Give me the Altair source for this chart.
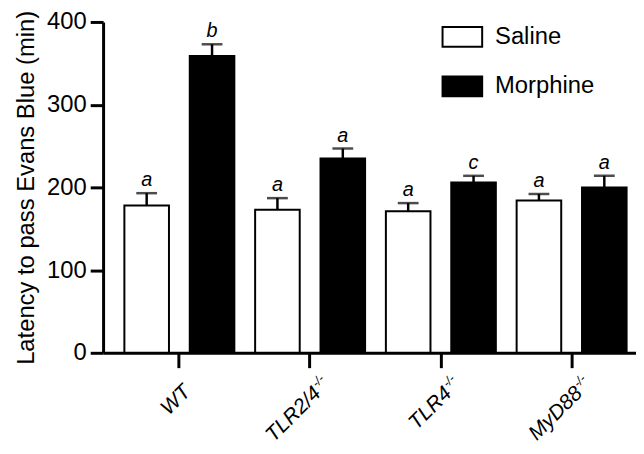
import altair as alt
import pandas as pd

# ---- data ----
groups = ["WT", "TLR2/4", "TLR4", "MyD88"]
sups = ["", "-/-", "-/-", "-/-"]
treatments = ["Saline", "Morphine"]
saline_mean = [178, 173, 171, 184]
saline_sem = [15, 14, 10, 8]
morphine_mean = [359, 235, 206, 200]
morphine_sem = [14, 12, 8, 14]
saline_letters = ["a", "a", "a", "a"]
morphine_letters = ["b", "a", "c", "a"]
y_ticks = [0, 100, 200, 300, 400]
y_title = "Latency to pass Evans Blue (min)"

bars_df = pd.DataFrame({
    "group": groups * 2,
    "treatment": ["Saline"] * 4 + ["Morphine"] * 4,
    "mean": saline_mean + morphine_mean,
    "sem": saline_sem + morphine_sem,
    "letter": saline_letters + morphine_letters,
})
bars_df["top"] = bars_df["mean"] + bars_df["sem"]
labels_df = pd.DataFrame({"group": groups, "sup": sups})

FONT = "Liberation Sans, Arial, Helvetica, sans-serif"

x_scale = alt.Scale(domain=groups, range=[0, 550], paddingInner=0, paddingOuter=0.0833)
x_axis = alt.Axis(labels=False, title=None, tickSize=15, tickWidth=3, tickColor="black",
                  domainWidth=3, domainColor="black", grid=False)
y_scale = alt.Scale(domain=[0, 400], nice=False)
y_axis = alt.Axis(values=y_ticks, grid=False)


def X():
    return alt.X("group:N", sort=groups, scale=x_scale, axis=x_axis)


def XO():
    return alt.XOffset("treatment:N", sort=treatments,
                       scale=alt.Scale(domain=treatments, paddingInner=0.318, paddingOuter=0.159))


def Y(field):
    return alt.Y(field, scale=y_scale, axis=y_axis, title=y_title)


base = alt.Chart(bars_df)

bars = base.mark_bar(stroke="black", strokeWidth=2).encode(
    x=X(), xOffset=XO(), y=Y("mean:Q"),
    fill=alt.Fill("treatment:N", sort=treatments,
                  scale=alt.Scale(domain=treatments, range=["white", "black"]),
                  legend=alt.Legend(title=None, orient="none", legendX=341.7, legendY=-6,
                                    symbolType="M-1,-0.5H1V0.5H-1Z", symbolSize=1600,
                                    symbolStrokeColor="black", symbolStrokeWidth=2,
                                    labelFont=FONT, labelFontSize=24, labelColor="black",
                                    labelOffset=12, rowPadding=15, padding=0)),
)

err = base.mark_rule(strokeWidth=2.5, color="black").encode(
    x=X(), xOffset=XO(), y=Y("mean:Q"), y2="top:Q"
)

caps = base.mark_tick(size=21, thickness=2.5, color="black").encode(
    x=X(), xOffset=XO(), y=Y("top:Q")
)

letters = base.mark_text(font=FONT, fontSize=20, fontStyle="italic", baseline="alphabetic",
                         dy=-7, color="black").encode(
    x=X(), xOffset=XO(), y=Y("top:Q"), text="letter:N"
)

# rotated group labels (main text + raised "-/-" superscript)
lab = alt.Chart(labels_df)
lab_common = dict(angle=315, align="right", baseline="alphabetic", font=FONT,
                  fontSize=21, fontStyle="italic", color="black")
y_zero = alt.YDatum(0, scale=y_scale, axis=y_axis, title=y_title)

wt_lab = lab.transform_filter("datum.sup == ''").mark_text(dx=-20.0, dy=37.5, **lab_common).encode(
    x=X(), y=y_zero, text="group:N"
)
ko_lab = lab.transform_filter("datum.sup != ''").mark_text(dx=-21.4, dy=38.3, **lab_common).encode(
    x=X(), y=y_zero, text="group:N"
)
sup_common = dict(lab_common)
sup_common["fontSize"] = 12.5
ko_sup = lab.transform_filter("datum.sup != ''").mark_text(dx=-8.6, dy=29.8, **sup_common).encode(
    x=X(), y=y_zero, text="sup:N"
)

chart = alt.layer(bars, err, caps, letters, wt_lab, ko_lab, ko_sup).properties(
    width=538, height=334,
    autosize=alt.AutoSizeParams(type="none"),
    padding={"left": 96, "top": 12, "right": 0, "bottom": 92},
).configure_view(stroke=None).configure_axis(
    labelFont=FONT, labelFontSize=24, labelColor="black", labelPadding=4,
    tickSize=13, tickWidth=3, tickColor="black",
    domainColor="black", domainWidth=3,
    titleFont=FONT, titleFontSize=24, titleFontWeight="normal", titleColor="black",
    titlePadding=8,
)

chart.save("out.html", embed_options={"renderer": "svg", "actions": False})
